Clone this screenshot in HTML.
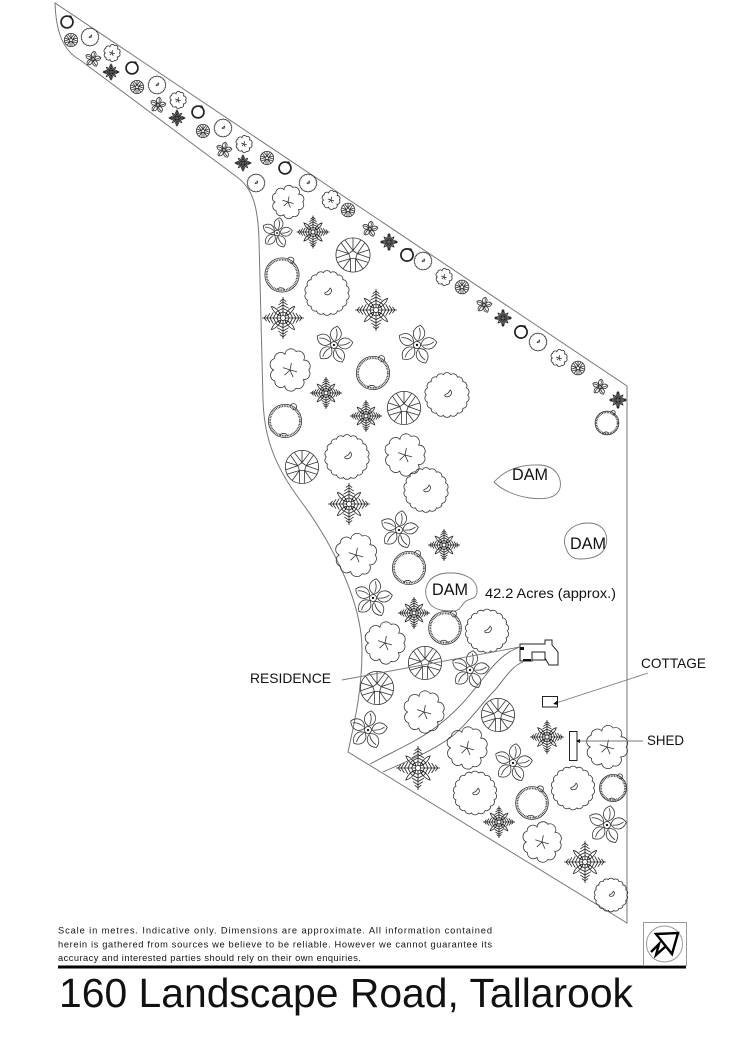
<!DOCTYPE html>
<html><head><meta charset="utf-8"><style>
html,body{margin:0;padding:0;background:#fff;}
svg{display:block;}
svg path,svg circle,svg line,svg polyline,svg polygon,svg rect{vector-effect:non-scaling-stroke;}
text{font-family:"Liberation Sans",Arial,sans-serif;fill:#111;}
</style></head><body>
<svg width="744" height="1052" viewBox="0 0 744 1052" xmlns="http://www.w3.org/2000/svg">
<defs>
<g id="A" fill="none" stroke="#333" stroke-width="0.8">
<path vector-effect="non-scaling-stroke" d="M9.2,0 A1.9,1.9 0 0 1 8.65,3.15 A1.9,1.9 0 0 1 7.05,5.91 A1.9,1.9 0 0 1 4.6,7.97 A1.9,1.9 0 0 1 1.6,9.06 A1.9,1.9 0 0 1 -1.6,9.06 A1.9,1.9 0 0 1 -4.6,7.97 A1.9,1.9 0 0 1 -7.05,5.91 A1.9,1.9 0 0 1 -8.65,3.15 A1.9,1.9 0 0 1 -9.2,0 A1.9,1.9 0 0 1 -8.65,-3.15 A1.9,1.9 0 0 1 -7.05,-5.91 A1.9,1.9 0 0 1 -4.6,-7.97 A1.9,1.9 0 0 1 -1.6,-9.06 A1.9,1.9 0 0 1 1.6,-9.06 A1.9,1.9 0 0 1 4.6,-7.97 A1.9,1.9 0 0 1 7.05,-5.91 A1.9,1.9 0 0 1 8.65,-3.15 A1.9,1.9 0 0 1 9.2,0Z"/>
<path vector-effect="non-scaling-stroke" d="M1.4,-2.2 C2.6,-1.2 1.8,0.6 0.2,0.8 C-1,0.9 -1.4,0 -0.6,-0.3 C0.2,-0.5 0.8,-1 1.4,-2.2Z"/>
</g>
<g id="O" fill="none" stroke="#333" stroke-width="0.8">
<path vector-effect="non-scaling-stroke" d="M8,0 A2.6,2.6 0 0 1 5.66,4.11 A2.6,2.6 0 0 1 2.53,7.8 A2.6,2.6 0 0 1 -2.22,6.85 A2.6,2.6 0 0 1 -6.47,4.7 A2.6,2.6 0 0 1 -7,0 A2.6,2.6 0 0 1 -6.63,-4.82 A2.6,2.6 0 0 1 -2.16,-6.66 A2.6,2.6 0 0 1 2.56,-7.89 A2.6,2.6 0 0 1 5.82,-4.23 A2.6,2.6 0 0 1 8,0Z"/>
<path vector-effect="non-scaling-stroke" d="M0,0 L0.6,-3 M0,0 L3,0.8 M0,0 L1.3,3 M0,0 L-2.3,2.2 M0,0 L-3,-1"/>
</g>
<g id="P" fill="none" stroke="#333" stroke-width="0.8">
<circle vector-effect="non-scaling-stroke" r="9.5"/>
<path vector-effect="non-scaling-stroke" d="M0,-2.5 L2.38,-0.77 L1.47,2.02 L-1.47,2.02 L-2.38,-0.77Z M0,-2.5 L-4.46,-8.39 M0,-2.5 L4.46,-8.39 M0,-2.5 L0,-9.5 M2.38,-0.77 L6.6,-6.83 M2.38,-0.77 L9.36,1.65 M2.38,-0.77 L9.04,-2.94 M1.47,2.02 L8.54,4.16 M1.47,2.02 L1.32,9.41 M1.47,2.02 L5.58,7.69 M-1.47,2.02 L-1.32,9.41 M-1.47,2.02 L-8.54,4.16 M-1.47,2.02 L-5.58,7.69 M-2.38,-0.77 L-9.36,1.65 M-2.38,-0.77 L-6.6,-6.83 M-2.38,-0.77 L-9.04,-2.94"/>
</g>
<g id="fa">
<path vector-effect="non-scaling-stroke" d="M0,-1 L0,-10 M-2.8,-1.4 L0,-3 L2.8,-1.4 M-3,-3 L0,-4.6 L3,-3 M-2.7,-4.6 L0,-6.2 L2.7,-4.6 M-2.2,-6.2 L0,-7.7 L2.2,-6.2 M-1.5,-7.8 L0,-9 L1.5,-7.8"/>
</g>
<g id="F" fill="none" stroke="#222" stroke-width="0.8">
<use href="#fa"/><use href="#fa" transform="rotate(90)"/><use href="#fa" transform="rotate(180)"/><use href="#fa" transform="rotate(270)"/>
<path vector-effect="non-scaling-stroke" d="M1,-1 C3,-1.5 5,-3.5 5.5,-5.5 C3.5,-5 1.5,-3 1,-1Z M1,1 C3,1.5 5,3.5 5.5,5.5 C3.5,5 1.5,3 1,1Z M-1,1 C-3,1.5 -5,3.5 -5.5,5.5 C-3.5,5 -1.5,3 -1,1Z M-1,-1 C-3,-1.5 -5,-3.5 -5.5,-5.5 C-3.5,-5 -1.5,-3 -1,-1Z"/>
<circle vector-effect="non-scaling-stroke" r="1.2"/>
</g>
<g id="pt">
<path vector-effect="non-scaling-stroke" d="M0,-2 C3.4,-3.5 4.2,-7.5 0,-10 C-4.2,-7.5 -3.4,-3.5 0,-2Z M0.4,-2.8 C1,-5 0.6,-7 -0.4,-8.6"/>
</g>
<g id="S" fill="none" stroke="#333" stroke-width="0.8">
<g transform="rotate(10)">
<use href="#pt"/><use href="#pt" transform="rotate(72)"/><use href="#pt" transform="rotate(144)"/><use href="#pt" transform="rotate(216)"/><use href="#pt" transform="rotate(288)"/>
</g>
<circle vector-effect="non-scaling-stroke" r="1.8"/>
<circle r="0.6" fill="#111" stroke="none"/>
</g>
<g id="R" fill="none" stroke="#333" stroke-width="0.8">
<circle vector-effect="non-scaling-stroke" r="9.5"/>
<circle vector-effect="non-scaling-stroke" r="8.5" stroke-width="1.8" stroke-dasharray="0.8 0.8"/>
<path vector-effect="non-scaling-stroke" d="M3,-8.6 C4,-10.8 6.8,-10 6.6,-8 C6.5,-6.5 5,-6 4.2,-7 M-3,8.4 C-2,6.5 1,6.8 1.5,8.6"/>
</g>
<g id="Rs" fill="none" stroke="#222">
<circle vector-effect="non-scaling-stroke" r="8.5" stroke-width="1.7"/>
<path vector-effect="non-scaling-stroke" stroke-width="1" d="M3,-8 C4.5,-9.5 6.5,-8.5 6,-6.5"/>
</g>
</defs>

<!-- boundary -->
<path d="M55,3 C56,30 62,50 80,60 L237,177 C252,188 258,205 259,240 L263,400 C264,430 270,460 300,500 C330,540 362,600 362,650 C362,690 355,720 348,752 L627,923 L627,386 Z" fill="none" stroke="#777" stroke-width="1"/>

<!-- roads -->
<path d="M370,764 C400,748 420,740 440,724 C460,708 470,695 485,676 C495,663 505,652 520,647" fill="none" stroke="#666" stroke-width="0.9"/>
<path d="M383,772 C410,760 430,752 450,738 C470,722 480,705 495,690 C505,678 512,666 523,662" fill="none" stroke="#666" stroke-width="0.9"/>

<!-- dams -->
<path d="M494,482 C505,470 520,464 540,465 C556,466 562,478 560,488 C557,498 545,500 530,498 C515,496 502,490 494,482 Z" fill="none" stroke="#777" stroke-width="0.9"/>
<path d="M566,548 C560,535 572,523 588,523 C602,523 609,533 606,545 C603,556 592,559 580,559 C572,559 568,555 566,548 Z" fill="none" stroke="#777" stroke-width="0.9"/>
<path d="M430,604 C420,590 428,574 447,573 C462,572 478,578 477,592 C476,600 470,598 466,601 C462,604 460,611 454,611 C446,611 436,611 430,604 Z" fill="none" stroke="#777" stroke-width="0.9"/>

<!-- trees: strip -->
<g>
<use href="#Rs" transform="translate(67,22) scale(0.7)"/>
<use href="#P" transform="translate(71,40) scale(0.7)"/>
<use href="#A" transform="translate(90,37) scale(0.9)"/>
<use href="#S" transform="translate(93,59) scale(0.8)"/>
<use href="#O" transform="translate(112,53) scale(0.95)"/>
<use href="#F" transform="translate(111,72) scale(0.85)"/>
<use href="#Rs" transform="translate(132,68) scale(0.7)"/>
<use href="#P" transform="translate(137,87) scale(0.7)"/>
<use href="#A" transform="translate(157,85) scale(0.9)"/>
<use href="#S" transform="translate(158,105) scale(0.8)"/>
<use href="#O" transform="translate(178,100) scale(0.95)"/>
<use href="#F" transform="translate(177,118) scale(0.85)"/>
<use href="#Rs" transform="translate(198,112) scale(0.7)"/>
<use href="#P" transform="translate(203,131) scale(0.7)"/>
<use href="#A" transform="translate(223,128) scale(0.9)"/>
<use href="#S" transform="translate(224,150) scale(0.8)"/>
<use href="#O" transform="translate(244,144) scale(0.95)"/>
<use href="#F" transform="translate(243,163) scale(0.85)"/>
<use href="#P" transform="translate(267,158) scale(0.7)"/>
<use href="#Rs" transform="translate(285,168) scale(0.7)"/>
<use href="#A" transform="translate(256,183) scale(0.9)"/>
<use href="#A" transform="translate(308,183) scale(0.9)"/>
<use href="#O" transform="translate(288,202) scale(1.85)"/>
<use href="#O" transform="translate(331,200) scale(1.05)"/>
<use href="#S" transform="translate(277,233) scale(1.55)"/>
<use href="#F" transform="translate(313,232) scale(1.65)"/>
<use href="#P" transform="translate(348,210) scale(0.72)"/>
<use href="#S" transform="translate(370,229) scale(0.8)"/>
<use href="#F" transform="translate(389,242) scale(0.9)"/>
<use href="#Rs" transform="translate(407,255) scale(0.72)"/>
<use href="#A" transform="translate(423,261) scale(0.9)"/>
<use href="#O" transform="translate(444,277) scale(0.95)"/>
<use href="#P" transform="translate(462,287) scale(0.72)"/>
<use href="#S" transform="translate(484,305) scale(0.8)"/>
<use href="#F" transform="translate(503,318) scale(0.9)"/>
<use href="#Rs" transform="translate(521,332) scale(0.72)"/>
<use href="#A" transform="translate(538,342) scale(0.9)"/>
<use href="#O" transform="translate(559,358) scale(0.95)"/>
<use href="#P" transform="translate(578,368) scale(0.72)"/>
<use href="#S" transform="translate(600,387) scale(0.8)"/>
<use href="#F" transform="translate(618,400) scale(0.9)"/>
<use href="#R" transform="translate(607,423) scale(1.25)"/>
</g>

<!-- trees: main -->
<g>
<use href="#R" transform="translate(282,275) scale(1.8)"/>
<use href="#A" transform="translate(327,293) scale(2.25)"/>
<use href="#P" transform="translate(353,255) scale(1.8)"/>
<use href="#F" transform="translate(283,318) scale(2.1)"/>
<use href="#F" transform="translate(376,310) scale(2.1)"/>
<use href="#S" transform="translate(334,345) scale(1.9)"/>
<use href="#S" transform="translate(417,345) scale(2.0)"/>
<use href="#O" transform="translate(290,370) scale(2.35)"/>
<use href="#R" transform="translate(373,373) scale(1.75)"/>
<use href="#A" transform="translate(447,395) scale(2.25)"/>
<use href="#F" transform="translate(326,393) scale(1.6)"/>
<use href="#P" transform="translate(404,408) scale(1.75)"/>
<use href="#F" transform="translate(366,416) scale(1.6)"/>
<use href="#R" transform="translate(285,421) scale(1.75)"/>
<use href="#A" transform="translate(347,457) scale(2.25)"/>
<use href="#O" transform="translate(405,455) scale(2.35)"/>
<use href="#P" transform="translate(302,467) scale(1.75)"/>
<use href="#A" transform="translate(426,490) scale(2.25)"/>
<use href="#F" transform="translate(349,504) scale(2.1)"/>
<use href="#S" transform="translate(399,530) scale(1.95)"/>
<use href="#F" transform="translate(444,545) scale(1.6)"/>
<use href="#O" transform="translate(356,555) scale(2.4)"/>
<use href="#R" transform="translate(409,568) scale(1.75)"/>
<use href="#S" transform="translate(373,598) scale(1.95)"/>
<use href="#F" transform="translate(414,613) scale(1.6)"/>
<use href="#R" transform="translate(445,628) scale(1.72)"/>
<use href="#A" transform="translate(487,631) scale(2.2)"/>
<use href="#O" transform="translate(385,643) scale(2.35)"/>
<use href="#P" transform="translate(425,663) scale(1.75)"/>
<use href="#S" transform="translate(470,670) scale(1.95)"/>
<use href="#P" transform="translate(377,688) scale(1.75)"/>
<use href="#O" transform="translate(424,712) scale(2.35)"/>
<use href="#P" transform="translate(498,715) scale(1.75)"/>
<use href="#S" transform="translate(368,730) scale(1.95)"/>
<use href="#F" transform="translate(547,737) scale(1.7)"/>
<use href="#O" transform="translate(607,747) scale(2.4)"/>
<use href="#O" transform="translate(467,748) scale(2.35)"/>
<use href="#S" transform="translate(513,763) scale(1.95)"/>
<use href="#F" transform="translate(418,768) scale(2.2)"/>
<use href="#A" transform="translate(475,793) scale(2.2)"/>
<use href="#R" transform="translate(532,803) scale(1.72)"/>
<use href="#A" transform="translate(573,788) scale(2.2)"/>
<use href="#R" transform="translate(613,788) scale(1.42)"/>
<use href="#S" transform="translate(607,825) scale(1.95)"/>
<use href="#F" transform="translate(499,822) scale(1.6)"/>
<use href="#O" transform="translate(542,842) scale(2.25)"/>
<use href="#F" transform="translate(585,862) scale(2.1)"/>
<use href="#A" transform="translate(611,895) scale(1.7)"/>
</g>

<!-- buildings -->
<g fill="#fff" stroke="#222" stroke-width="1">
<path d="M520,644 L545,644 L545,640 L552,640 L552,645 L558,652 L558,665 L549,665 L545,658 L532,658 L532,661 L520,661 Z"/>
<rect x="532" y="652" width="13" height="8"/>
<rect x="542.5" y="696.5" width="15" height="10.5"/>
<rect x="569.5" y="731.5" width="7.5" height="29"/>
</g>
<rect x="520" y="647" width="4" height="3" fill="#111"/>
<rect x="523" y="659" width="8" height="2.5" fill="#111"/>

<!-- leaders -->
<g stroke="#777" stroke-width="0.9" fill="none">
<line x1="342" y1="680" x2="520" y2="647"/>
<line x1="648" y1="673" x2="556" y2="703"/>
<line x1="577" y1="741" x2="643" y2="741"/>
</g>
<path d="M553,704 L558,700 L558,705 Z" fill="#111"/>
<path d="M576,741 L580,739 L580,743 Z" fill="#111"/>

<!-- labels -->
<text x="512" y="480" font-size="17" textLength="36" lengthAdjust="spacingAndGlyphs">DAM</text>
<text x="570" y="549" font-size="17" textLength="36" lengthAdjust="spacingAndGlyphs">DAM</text>
<text x="432" y="595" font-size="17" textLength="36" lengthAdjust="spacingAndGlyphs">DAM</text>
<text x="485" y="598" font-size="13.5" textLength="131" lengthAdjust="spacingAndGlyphs">42.2 Acres (approx.)</text>
<text x="250" y="683" font-size="14" textLength="81" lengthAdjust="spacingAndGlyphs">RESIDENCE</text>
<text x="641" y="668" font-size="14" textLength="65" lengthAdjust="spacingAndGlyphs">COTTAGE</text>
<text x="647" y="745" font-size="14" textLength="37" lengthAdjust="spacingAndGlyphs">SHED</text>

<!-- disclaimer -->
<text x="58" y="933.5" font-size="9.3" textLength="434" lengthAdjust="spacing">Scale in metres. Indicative only. Dimensions are approximate.  All information contained</text>
<text x="58" y="947.5" font-size="9.3" textLength="434" lengthAdjust="spacing">herein is gathered from sources we believe to be reliable. However we cannot guarantee its</text>
<text x="58" y="961" font-size="9.3" textLength="303" lengthAdjust="spacing">accuracy and interested parties should rely on their own enquiries.</text>

<!-- rule -->
<rect x="58" y="965.5" width="628" height="3" fill="#000"/>

<!-- north arrow -->
<rect x="643.5" y="922.5" width="43" height="43" fill="none" stroke="#999" stroke-width="1"/>
<circle cx="664.5" cy="944" r="18" fill="none" stroke="#999" stroke-width="1"/>
<polygon points="656,934 678,933 672,954" fill="none" stroke="#000" stroke-width="2.4" stroke-linejoin="miter"/>
<polyline points="651,952 659,944 656,955 665,947" fill="none" stroke="#000" stroke-width="2.4"/>

<!-- title -->
<text x="59" y="1007" font-size="41" textLength="574" lengthAdjust="spacingAndGlyphs">160 Landscape Road, Tallarook</text>
</svg>
</body></html>
